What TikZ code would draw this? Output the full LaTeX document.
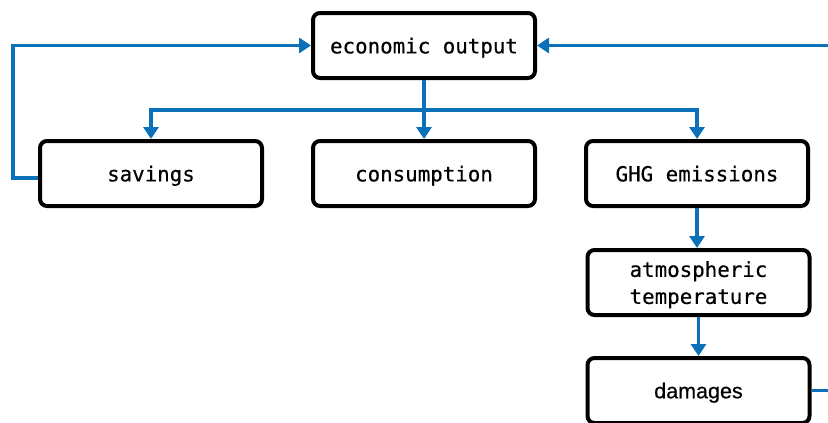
\documentclass[tikz,border=0pt]{standalone}
\usepackage{fontspec}
\setmainfont[FakeBold=0.5]{Liberation Sans}
\newfontfamily\monof[FakeBold=0.35]{DejaVu Sans Mono}
\usetikzlibrary{arrows.meta}
\definecolor{flowblue}{HTML}{0B72B9}
\tikzset{
  box/.style={draw=black, line width=4pt, rounded corners=7pt, minimum width=222pt, minimum height=65pt, font=\monof\fontsize{20.8}{27}\selectfont, align=center, inner sep=0pt, text depth=0pt},
  flow/.style={draw=flowblue, line width=3.2pt},
  arr/.style={flow, -{Triangle[length=12pt,width=15pt]}}
}
\begin{document}
\begin{tikzpicture}[x=1pt,y=-1pt]
\useasboundingbox (0,0) rectangle (828,423);
\clip (0,0) rectangle (828,423);
\node[box] (eco) at (424,45.5) {economic output};
\node[box] (sav) at (151,173.5) {savings};
\node[box] (con) at (424,173.5) {consumption};
\node[box] (ghg) at (697,173.5) {GHG emissions};
\node[box] (atm) at (698.5,282.5) {atmospheric\\temperature};
\node[box, font=\fontsize{21.5}{25}\selectfont] (dam) at (698.5,390.5) {damages};
\coordinate (split) at (424,110);
\coordinate (lcorner) at (13,45.5);
\coordinate (rtop) at (830,45.5);
\coordinate (rdam) at (830,390.5);
% distribution
\draw[flow] (eco.south) -- (split);
\draw[arr] (split) -- (con.north);
\draw[arr] (split) -| (sav.north);
\draw[arr] (split) -| (ghg.north);
% savings loop
\draw[arr] ([yshift=-4.5pt]sav.west) -| (lcorner) -- (eco.west);
% right loop
\draw[arr] (rtop) -- (eco.east);
\draw[flow] (dam.east) -- (rdam);
% chain
\draw[arr] (ghg.south) -- (ghg.south |- atm.north);
\draw[arr] (atm.south) -- (atm.south |- dam.north);
\end{tikzpicture}
\end{document}
